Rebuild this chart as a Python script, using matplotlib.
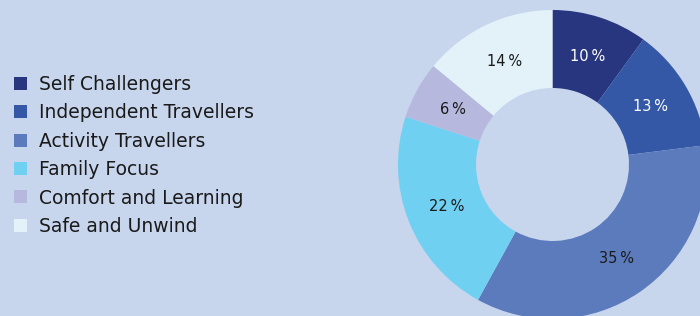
import matplotlib
matplotlib.use("Agg")
import matplotlib.pyplot as plt

categories = ["Self Challengers", "Independent Travellers", "Activity Travellers",
              "Family Focus", "Comfort and Learning", "Safe and Unwind"]
values = [10, 13, 35, 22, 6, 14]
colors = ["#27367f", "#3457a6", "#5b7bbd", "#6fd0f2", "#b7b8de", "#e2f2f8"]
label_colors = ["white", "white", "#1a1a1a", "#1a1a1a", "#1a1a1a", "#1a1a1a"]
bg = "#c7d5ed"

W, H = 700, 316
fig = plt.figure(figsize=(W / 100, H / 100), dpi=100, facecolor=bg)
ax = fig.add_axes([0, 0, 1, 1])
ax.set_facecolor(bg)

cx, cy = 552.5, H - 164.5
R, r = 154.5, 76.5

wedges, texts, autotexts = ax.pie(
    values, colors=colors, startangle=90, counterclock=False,
    center=(cx, cy), radius=R,
    wedgeprops=dict(width=R - r, linewidth=0),
    autopct=lambda p: f"{p:.0f}\u2009%", pctdistance=0.735,
    textprops=dict(fontsize=10.5, family="DejaVu Sans"),
)
for t, c in zip(autotexts, label_colors):
    t.set_color(c)

ax.set_xlim(0, W)
ax.set_ylim(0, H)
ax.set_aspect("equal")
ax.axis("off")

leg = ax.legend(
    wedges, categories, loc="upper left",
    bbox_to_anchor=(14 / W, (H - 75) / H), bbox_transform=fig.transFigure,
    frameon=False, fontsize=13.5, handlelength=0.69, handleheight=0.69,
    handletextpad=0.64, labelspacing=0.5, borderpad=0, borderaxespad=0,
    labelcolor="#1a1a1a",
)

fig.savefig("out.png", dpi=100, facecolor=bg)
